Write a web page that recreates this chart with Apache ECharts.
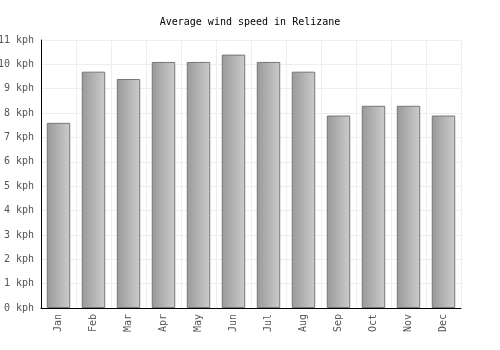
<!DOCTYPE html>
<html>
<head>
<meta charset="utf-8">
<script src="https://cdn.jsdelivr.net/npm/echarts@6/dist/echarts.min.js"></script>
<style>
  html, body { margin: 0; padding: 0; background: #fff; }
  #chart { width: 500px; height: 350px; }
</style>
</head>
<body>
<div id="chart"></div>
<script>
var months = ['Jan', 'Feb', 'Mar', 'Apr', 'May', 'Jun', 'Jul', 'Aug', 'Sep', 'Oct', 'Nov', 'Dec'];
var windSpeed = [7.6, 9.7, 9.4, 10.1, 10.1, 10.4, 10.1, 9.7, 7.9, 8.3, 8.3, 7.9];

var myChart = echarts.init(document.getElementById('chart'));

var option = {
    animation: false,
    textStyle: { fontFamily: 'DejaVu Sans Mono' },
    title: {
        text: 'Average wind speed in Relizane',
        left: 'center',
        top: 12,
        textStyle: { fontFamily: 'DejaVu Sans Mono', fontSize: 10, fontWeight: 'normal', color: '#000' }
    },
    grid: { left: 41, right: 39, top: 40, bottom: 42, outerBoundsMode: 'none' },
    xAxis: {
        type: 'category',
        data: months,
        axisLine: { lineStyle: { color: '#000', width: 1 } },
        axisTick: { show: false },
        axisLabel: { rotate: 90, color: '#555', fontSize: 10, margin: 6 },
        splitLine: { show: true, lineStyle: { color: '#eee' } }
    },
    yAxis: {
        type: 'value',
        min: 0,
        max: 11,
        interval: 1,
        axisLine: { show: true, lineStyle: { color: '#000', width: 1 } },
        axisTick: { show: false },
        axisLabel: { color: '#555', fontSize: 10, margin: 7, formatter: '{value} kph' },
        splitLine: { lineStyle: { color: '#eee' } }
    },
    series: [{
        type: 'bar',
        data: windSpeed,
        barWidth: '67%',
        itemStyle: {
            color: new echarts.graphic.LinearGradient(0, 0, 1, 0, [
                { offset: 0, color: '#999' },
                { offset: 1, color: '#ccc' }
            ]),
            borderColor: '#777',
            borderWidth: 1
        }
    }]
};

myChart.setOption(option);
</script>
</body>
</html>
